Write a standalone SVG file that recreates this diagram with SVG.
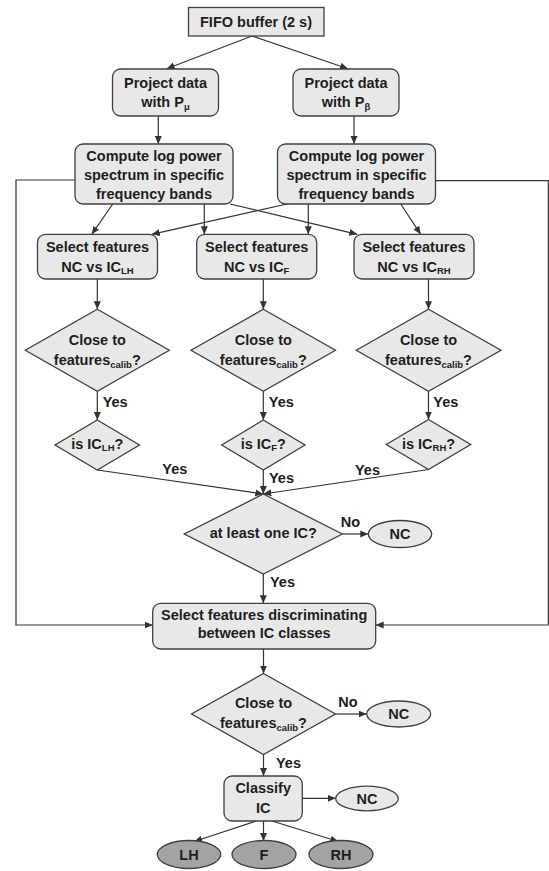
<svg xmlns="http://www.w3.org/2000/svg" width="549" height="871" viewBox="0 0 549 871">
<defs>
<marker id="ah" markerUnits="userSpaceOnUse" markerWidth="9" markerHeight="8" refX="8" refY="4" orient="auto">
<path d="M0,0.5 L8,4 L0,7.5 Z" fill="#333"/>
</marker>
<style>
.box{fill:#e8e8e8;stroke:#404040;stroke-width:1.3}
.dark{fill:#a3a3a3;stroke:#404040;stroke-width:1.3}
.ln{fill:none;stroke:#333;stroke-width:1.2}
.ar{fill:none;stroke:#333;stroke-width:1.2;marker-end:url(#ah)}
text{font-family:"Liberation Sans",Arial,sans-serif;font-weight:bold;font-size:14.5px;fill:#1e1e1e}
.c{text-anchor:middle}
.sub{font-size:9.5px}
</style>
</defs>
<rect width="549" height="871" fill="#fff"/>

<g id="connectors">
<line class="ar" x1="252" y1="36" x2="166.7" y2="68.7"/>
<line class="ar" x1="252" y1="36" x2="348" y2="68.7"/>
<line class="ar" x1="158.3" y1="116" x2="158.3" y2="144"/>
<line class="ar" x1="354" y1="116" x2="354" y2="144"/>
<polyline class="ar" points="75,180 16,180 16,625 152.7,625"/>
<polyline class="ar" points="435.5,180.7 548.3,180.7 548.3,625 375.7,625"/>
<line class="ar" x1="112.7" y1="204" x2="91.7" y2="234.3"/>
<line class="ar" x1="204.3" y1="204" x2="204.3" y2="234.3"/>
<line class="ar" x1="230" y1="204" x2="357.3" y2="234.3"/>
<line class="ar" x1="287" y1="204" x2="151.7" y2="234.3"/>
<line class="ar" x1="308.3" y1="204" x2="308.3" y2="234.3"/>
<line class="ar" x1="400.7" y1="204" x2="420.7" y2="234.3"/>
<line class="ar" x1="97.3" y1="279" x2="97.3" y2="309.3"/>
<line class="ar" x1="263.3" y1="279" x2="263.3" y2="309.3"/>
<line class="ar" x1="428.5" y1="279" x2="428.5" y2="309.3"/>
<line class="ar" x1="97.3" y1="391.3" x2="97.3" y2="420"/>
<line class="ar" x1="263.3" y1="391.3" x2="263.3" y2="420"/>
<line class="ar" x1="428.5" y1="391.3" x2="428.5" y2="419.5"/>
<line class="ar" x1="97.3" y1="470" x2="263.3" y2="494"/>
<line class="ar" x1="263.3" y1="470" x2="263.3" y2="494"/>
<line class="ar" x1="428.5" y1="469.5" x2="263.3" y2="494"/>
<line class="ar" x1="342.3" y1="534" x2="368.3" y2="534"/>
<line class="ar" x1="263.3" y1="574" x2="263.3" y2="603.3"/>
<line class="ar" x1="263.5" y1="649" x2="263.5" y2="673.5"/>
<line class="ar" x1="335.5" y1="714" x2="366.7" y2="714"/>
<line class="ar" x1="263.5" y1="754.5" x2="263.5" y2="776"/>
<line class="ar" x1="302.3" y1="798.3" x2="335.7" y2="798.3"/>
<line class="ar" x1="256" y1="821" x2="194.3" y2="841.5"/>
<line class="ar" x1="263.5" y1="821" x2="263.5" y2="841"/>
<line class="ar" x1="272" y1="821" x2="338.3" y2="841.5"/>
<text x="102.7" y="407.3">Yes</text>
<text x="268.8" y="407.3">Yes</text>
<text x="433.3" y="407.3">Yes</text>
<text x="162.3" y="474.3">Yes</text>
<text x="269" y="482.7">Yes</text>
<text x="355" y="475">Yes</text>
<text x="340.7" y="527.3">No</text>
<text x="270" y="587">Yes</text>
<text x="338.3" y="707.3">No</text>
<text x="276" y="768.3">Yes</text>
</g>

<g id="fifo">
<rect x="188.5" y="7.5" width="135.5" height="28.5" fill="#e8e8e8" stroke="#404040" stroke-width="1.3"/>
<text class="c" x="256" y="27">FIFO buffer (2 s)</text>
</g>

<g id="project-mu">
<rect class="box" x="112.5" y="69" width="106" height="47" rx="8"/>
<text class="c" x="165.5" y="87.5">Project data</text>
<text class="c" x="165.5" y="107">with P<tspan class="sub" dy="3">μ</tspan></text>
</g>
<g id="project-beta">
<rect class="box" x="293" y="69" width="106" height="47" rx="8"/>
<text class="c" x="346" y="87.5">Project data</text>
<text class="c" x="346" y="107">with P<tspan class="sub" dy="3">β</tspan></text>
</g>

<g id="compute-left">
<rect class="box" x="75" y="144" width="158" height="60" rx="8"/>
<text class="c" x="154" y="161">Compute log power</text>
<text class="c" x="154" y="180">spectrum in specific</text>
<text class="c" x="154" y="198.5">frequency bands</text>
</g>
<g id="compute-right">
<rect class="box" x="277.5" y="144" width="158" height="60" rx="8"/>
<text class="c" x="356.5" y="161">Compute log power</text>
<text class="c" x="356.5" y="180">spectrum in specific</text>
<text class="c" x="356.5" y="198.5">frequency bands</text>
</g>

<g id="select-lh">
<rect class="box" x="37.5" y="234.3" width="120" height="44.7" rx="8"/>
<text class="c" x="97.5" y="252.3">Select features</text>
<text class="c" x="97.5" y="271.7">NC vs IC<tspan class="sub" dy="2">LH</tspan></text>
</g>
<g id="select-f">
<rect class="box" x="196.7" y="234.3" width="120" height="44.7" rx="8"/>
<text class="c" x="256.7" y="252.3">Select features</text>
<text class="c" x="256.7" y="271.7">NC vs IC<tspan class="sub" dy="2">F</tspan></text>
</g>
<g id="select-rh">
<rect class="box" x="354" y="234.3" width="120" height="44.7" rx="8"/>
<text class="c" x="414" y="252.3">Select features</text>
<text class="c" x="414" y="271.7">NC vs IC<tspan class="sub" dy="2">RH</tspan></text>
</g>

<g id="close-lh">
<polygon class="box" points="97.3,309.3 169.3,350.3 97.3,391.3 25.3,350.3"/>
<text class="c" x="97.3" y="345">Close to</text>
<text class="c" x="97.3" y="365">features<tspan class="sub" dy="3">calib</tspan><tspan dy="-3">?</tspan></text>
</g>
<g id="close-f">
<polygon class="box" points="263.3,309.3 335.5,350.3 263.3,391.3 191,350.3"/>
<text class="c" x="263.3" y="345">Close to</text>
<text class="c" x="263.3" y="365">features<tspan class="sub" dy="3">calib</tspan><tspan dy="-3">?</tspan></text>
</g>
<g id="close-rh">
<polygon class="box" points="428.5,309.3 501,350.3 428.5,391.3 356.3,350.3"/>
<text class="c" x="428.5" y="345">Close to</text>
<text class="c" x="428.5" y="365">features<tspan class="sub" dy="3">calib</tspan><tspan dy="-3">?</tspan></text>
</g>

<g id="is-lh">
<polygon class="box" points="97.3,420 139.5,445 97.3,470 55,445"/>
<text class="c" x="97.3" y="449.3">is IC<tspan class="sub" dy="2">LH</tspan><tspan dy="-2">?</tspan></text>
</g>
<g id="is-f">
<polygon class="box" points="263.3,420 305,445 263.3,470 221.7,445"/>
<text class="c" x="263.3" y="449.3">is IC<tspan class="sub" dy="2">F</tspan><tspan dy="-2">?</tspan></text>
</g>
<g id="is-rh">
<polygon class="box" points="428.5,419.5 470.7,444.5 428.5,469.5 386.3,444.5"/>
<text class="c" x="428.5" y="449.3">is IC<tspan class="sub" dy="2">RH</tspan><tspan dy="-2">?</tspan></text>
</g>

<g id="at-least-one">
<polygon class="box" points="263.3,494 342.3,534 263.3,574 184.3,534"/>
<text class="c" x="263.3" y="538.3">at least one IC?</text>
</g>
<g id="nc1">
<ellipse class="box" cx="400" cy="534" rx="31.7" ry="13.5"/>
<text class="c" x="400" y="539">NC</text>
</g>

<g id="select-discr">
<rect class="box" x="152.7" y="603.3" width="223" height="45.7" rx="8"/>
<text class="c" x="264.2" y="620">Select features discriminating</text>
<text class="c" x="264.2" y="638.3">between IC classes</text>
</g>

<g id="close-final">
<polygon class="box" points="263.5,673.5 335.5,714 263.5,754.5 191.5,714"/>
<text class="c" x="263.5" y="708.3">Close to</text>
<text class="c" x="263.5" y="728.3">features<tspan class="sub" dy="3">calib</tspan><tspan dy="-3">?</tspan></text>
</g>
<g id="nc2">
<ellipse class="box" cx="398.7" cy="714" rx="32" ry="13"/>
<text class="c" x="398.7" y="719">NC</text>
</g>

<g id="classify">
<rect class="box" x="224" y="776" width="78.3" height="45" rx="8"/>
<text class="c" x="263.2" y="792.7">Classify</text>
<text class="c" x="263.2" y="812.7">IC</text>
</g>
<g id="nc3">
<ellipse class="box" cx="367" cy="798.5" rx="31.3" ry="12.3"/>
<text class="c" x="367" y="803.5">NC</text>
</g>

<g id="lh">
<ellipse class="dark" cx="189" cy="854.5" rx="31.7" ry="14"/>
<text class="c" x="189" y="859.5">LH</text>
</g>
<g id="f">
<ellipse class="dark" cx="264" cy="854.5" rx="32" ry="14"/>
<text class="c" x="264" y="859.5">F</text>
</g>
<g id="rh">
<ellipse class="dark" cx="341" cy="854.5" rx="32" ry="14"/>
<text class="c" x="341" y="859.5">RH</text>
</g>
</svg>
